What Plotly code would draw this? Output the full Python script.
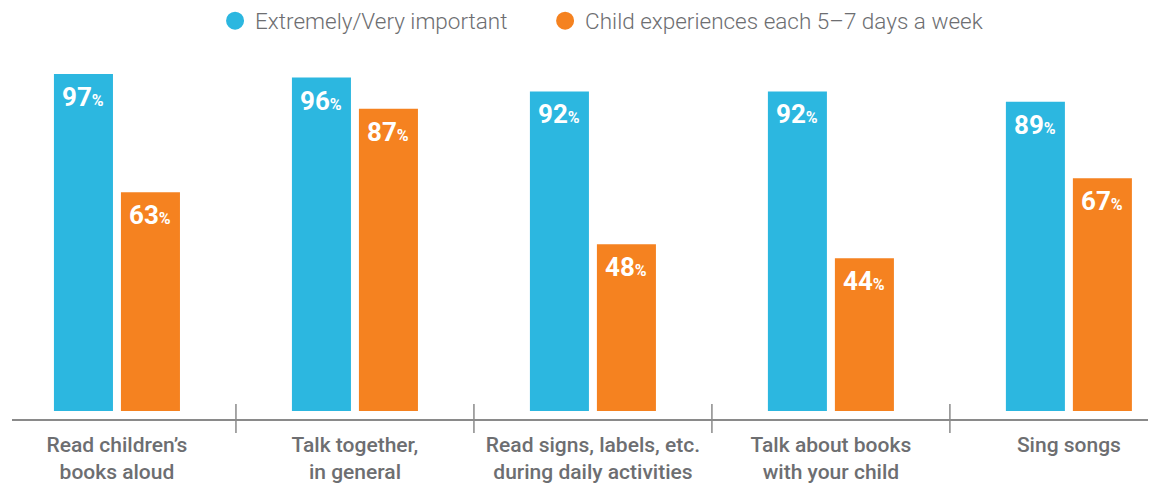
import plotly.graph_objects as go

# ---------------------------------------------------------------------------
# DATA
# ---------------------------------------------------------------------------
CATEGORIES = [
    "Read children’s<br>books aloud",
    "Talk together,<br>in general",
    "Read signs, labels, etc.<br>during daily activities",
    "Talk about books<br>with your child",
    "Sing songs<br> ",
]
SERIES_NAMES = ["Extremely/Very important", "Child experiences each 5–7 days a week"]
IMPORTANT = [97, 96, 92, 92, 89]
EXPERIENCES = [63, 87, 48, 44, 67]

BLUE = "#2cb7e0"
ORANGE = "#f58220"
GREY_TEXT = "#6d6e71"
AXIS_GREY = "#8a8a8a"
FONT = "Roboto, 'Open Sans', sans-serif"

# page body has an 8px default margin, so the figure is 8px smaller
WIDTH, HEIGHT = 1148, 481
IDX = list(range(len(CATEGORIES)))

fig = go.Figure()

series = [(SERIES_NAMES[0], IMPORTANT, BLUE, "legend"),
          (SERIES_NAMES[1], EXPERIENCES, ORANGE, "legend2")]
for name, vals, color, leg in series:
    fig.add_trace(go.Bar(x=IDX, y=vals, name=name, marker_color=color,
                         marker_line_width=0, showlegend=False, hoverinfo="y"))
    # legend proxy with circle marker
    fig.add_trace(go.Scatter(x=[None], y=[None], mode="markers", name=name, legend=leg,
                             marker=dict(color=color, size=16, symbol="circle",
                                         line=dict(color=color, width=2))))

# value labels inside the top of each bar
annotations = []
for vals, shift in [(IMPORTANT, -33.5), (EXPERIENCES, 33.5)]:
    for i, v in zip(IDX, vals):
        annotations.append(dict(
            x=i, y=v, xref="x", yref="y", xshift=shift, yshift=-6,
            yanchor="top", showarrow=False,
            text=f"<b>{v}<span style='font-size:16px'>%</span></b>",
            font=dict(family=FONT, size=26, color="white"),
        ))

# separators between categories
shapes = []
for i in IDX[:-1]:
    shapes.append(dict(type="line", xref="x", yref="paper", x0=i + 0.5, x1=i + 0.5,
                       y0=-0.039, y1=0.042, line=dict(color=AXIS_GREY, width=1.5)))

legend_style = dict(orientation="h", xanchor="left", y=1.1086, yanchor="middle",
                    font=dict(size=22.5, color=GREY_TEXT, weight=300), itemsizing="trace")

fig.update_layout(
    width=WIDTH, height=HEIGHT,
    margin=dict(l=4, r=0, t=52, b=70, autoexpand=False),
    paper_bgcolor="white", plot_bgcolor="white",
    barmode="group", bargap=0.437, bargroupgap=0.119,
    font=dict(family=FONT, color=GREY_TEXT),
    legend=dict(x=0.1775, **legend_style),
    legend2=dict(x=0.466, **legend_style),
    xaxis=dict(range=[-0.441, 4.366], tickmode="array", tickvals=IDX, ticktext=CATEGORIES,
               showline=True, linecolor=AXIS_GREY, linewidth=1.5, ticks="",
               ticklabelstandoff=6, automargin=False,
               showgrid=False, zeroline=False,
               tickfont=dict(size=21, color=GREY_TEXT, weight=500),
               fixedrange=True),
    yaxis=dict(range=[-2.303, 101.04], visible=False, showgrid=False, zeroline=False,
               fixedrange=True),
    annotations=annotations,
    shapes=shapes,
)

fig.write_html("out.html")
